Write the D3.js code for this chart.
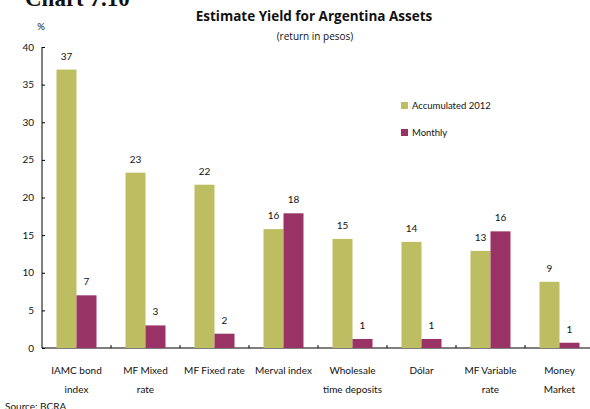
<!DOCTYPE html>
<html>
<head>
<meta charset="utf-8">
<script src="https://cdn.jsdelivr.net/npm/d3@7"></script>
<style>
  html, body { margin: 0; padding: 0; background: #fff; }
  svg { display: block; }
  text { font-family: Lato, "Open Sans", sans-serif; fill: #111; }
</style>
</head>
<body>
<svg id="chart" width="590" height="409"></svg>
<script>
// Asset categories (each label split into display lines)
const categories = [
  ["IAMC bond", "index"],
  ["MF Mixed", "rate"],
  ["MF Fixed rate"],
  ["Merval index"],
  ["Wholesale", "time deposits"],
  ["Dólar"],
  ["MF Variable", "rate"],
  ["Money", "Market"]
];
const seriesNames = ["Accumulated 2012", "Monthly"];
const accumulated = [37.0, 23.3, 21.7, 15.8, 14.5, 14.1, 12.9, 8.8];
const monthly = [7.0, 3.0, 1.9, 17.9, 1.2, 1.2, 15.5, 0.7];
const yTicks = [0, 5, 10, 15, 20, 25, 30, 35, 40];
const colors = ["#BDBD62", "#993366"];

const svg = d3.select("#chart");
const plotLeft = 42, plotRight = 594, plotTop = 47, plotBottom = 348;

const x = d3.scaleBand().domain(d3.range(categories.length)).range([plotLeft, plotRight]);
const xInner = d3.scaleBand().domain([0, 1]).range([0, 40]);
const y = d3.scaleLinear().domain([0, 40]).range([plotBottom, plotTop]);

// Headline
svg.append("text").attr("x", 25).attr("y", 6)
  .style("font-family", "'Liberation Serif', 'Times New Roman', serif")
  .style("font-weight", "bold").style("font-size", "23px")
  .text("Chart 7.10");

svg.append("text").attr("x", 314).attr("y", 21).attr("text-anchor", "middle")
  .style("font-family", "'Open Sans', sans-serif")
  .style("font-weight", "bold").style("font-size", "13.5px")
  .text("Estimate Yield for Argentina Assets");
svg.append("text").attr("x", 315).attr("y", 40).attr("text-anchor", "middle")
  .style("font-family", "'Open Sans', sans-serif")
  .style("font-size", "10px")
  .text("(return in pesos)");

svg.append("text").attr("x", 41).attr("y", 30).attr("text-anchor", "middle")
  .style("font-size", "9.5px").text("%");

// Y axis
const yAxis = svg.append("g").attr("transform", `translate(${plotLeft},0)`)
  .call(d3.axisRight(y).tickValues(yTicks).tickSize(3).tickFormat(""));
yAxis.select(".domain").attr("d", `M0,${plotTop}V${plotBottom}`).attr("stroke", "#000");
yAxis.selectAll(".tick line").attr("stroke", "#000");
svg.append("g").selectAll("text").data(yTicks).join("text")
  .attr("x", 34).attr("y", d => y(d) + 3.5).attr("text-anchor", "end")
  .style("font-size", "10px").text(d => d);

// X axis with inward tick marks at category boundaries
const boundaries = d3.range(1, categories.length);
svg.append("line").attr("x1", plotLeft).attr("x2", 590).attr("y1", plotBottom).attr("y2", plotBottom)
  .attr("stroke", "#000").attr("stroke-width", 1.2);
svg.append("g").selectAll("line").data(boundaries).join("line")
  .attr("x1", d => x(d)).attr("x2", d => x(d))
  .attr("y1", plotBottom).attr("y2", plotBottom - 3).attr("stroke", "#000");

// Bars
const groups = svg.append("g").selectAll("g").data(categories).join("g")
  .attr("transform", (d, i) => `translate(${x(i) + x.bandwidth() / 2 - 20},0)`);
const fmt = d3.format(".0f");
[accumulated, monthly].forEach((vals, s) => {
  groups.append("rect")
    .attr("x", xInner(s)).attr("width", xInner.bandwidth())
    .attr("y", (d, i) => y(vals[i])).attr("height", (d, i) => plotBottom - y(vals[i]))
    .attr("fill", colors[s]);
  groups.append("text")
    .attr("x", xInner(s) + xInner.bandwidth() / 2)
    .attr("y", (d, i) => y(vals[i]) - 10)
    .attr("text-anchor", "middle").style("font-size", "10px")
    .text((d, i) => fmt(vals[i]));
});

// Category labels
const lab = svg.append("g").selectAll("text").data(categories).join("text")
  .attr("x", (d, i) => x(i) + x.bandwidth() / 2)
  .attr("y", 374).attr("text-anchor", "middle").style("font-size", "10px");
lab.selectAll("tspan").data(d => d).join("tspan")
  .attr("x", function () { return d3.select(this.parentNode).attr("x"); })
  .attr("dy", (d, j) => j === 0 ? 0 : 19)
  .text(d => d);

// Legend
const legend = svg.append("g").selectAll("g").data(seriesNames).join("g")
  .attr("transform", (d, i) => `translate(401,${102 + i * 27})`);
legend.append("rect").attr("width", 7).attr("height", 7).attr("fill", (d, i) => colors[i]);
legend.append("text").attr("x", 11).attr("y", 7).style("font-size", "9.5px").text(d => d);

// Source note
svg.append("text").attr("x", 5).attr("y", 410).style("font-size", "10px").text("Source: BCRA");
</script>
</body>
</html>
